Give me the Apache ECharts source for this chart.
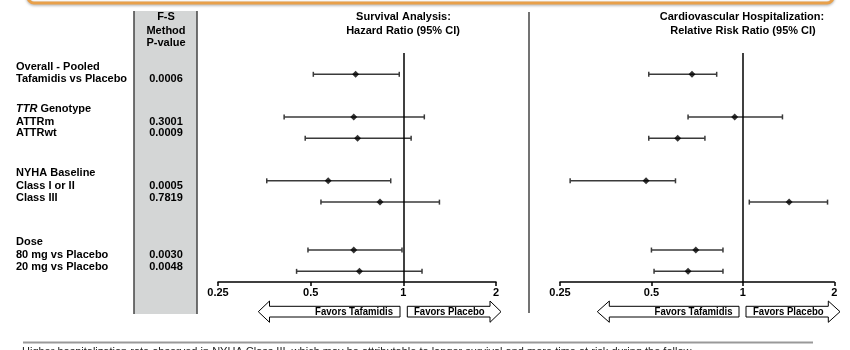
<!DOCTYPE html>
<html><head><meta charset="utf-8">
<script src="https://cdn.jsdelivr.net/npm/echarts@6/dist/echarts.min.js"></script>
<style>html,body{margin:0;padding:0;background:#fff}#c{width:850px;height:350px}</style>
</head><body><div id="c"></div>
<script>
// ---------- data ----------
const rowLabels = ['Overall - Pooled Tafamidis vs Placebo', 'ATTRm', 'ATTRwt', 'Class I or II', 'Class III', '80 mg vs Placebo', '20 mg vs Placebo'];
const pValues = ['0.0006', '0.3001', '0.0009', '0.0005', '0.7819', '0.0030', '0.0048'];
const hrEst  = [0.70, 0.69, 0.71, 0.57, 0.84, 0.69, 0.72];
const hrLow  = [0.51, 0.41, 0.48, 0.36, 0.54, 0.49, 0.45];
const hrHigh = [0.97, 1.17, 1.06, 0.91, 1.31, 0.99, 1.15];
const rrEst  = [0.68, 0.94, 0.61, 0.48, 1.42, 0.70, 0.66];
const rrLow  = [0.49, 0.66, 0.49, 0.27, 1.05, 0.50, 0.51];
const rrHigh = [0.82, 1.35, 0.75, 0.60, 1.90, 0.86, 0.86];
const tickLabels = ['0.25', '0.5', '1', '2'];
const leftTitle = ['Survival Analysis:', 'Hazard Ratio (95% CI)'];
const rightTitle = ['Cardiovascular Hospitalization:', 'Relative Risk Ratio (95% CI)'];
const pHeader = ['F-S', 'Method', 'P-value'];

// ---------- layout (row slots, quarter-row units) ----------
const slotsBefore = [4, 8, 4, 8, 4, 9, 4];
const slotsAfter = 2;
const rowSlot = [];
let s = 0;
slotsBefore.forEach(g => { s += g; rowSlot.push(s); });
const nSlots = s + slotsAfter + 1;
const slotCats = Array.from({length: nSlots}, (_, i) => {
  const k = rowSlot.indexOf(i);
  return k >= 0 ? rowLabels[k] : '_' + i;
});

const FF = '"Liberation Sans", Arial, Helvetica, sans-serif';
const B11 = 'bold 11px ' + FF;
const LINE = '#3a3a3a';

function xAxisDef(gi) {
  return {
    gridIndex: gi, type: 'log', logBase: 2, min: 0.25, max: 2,
    splitLine: {show: false},
    axisLine: {show: true, lineStyle: {color: '#000', width: 1.5}},
    axisTick: {show: true, inside: false, length: 4, lineStyle: {color: '#000', width: 1.5}},
    axisLabel: {
      color: '#000', fontFamily: FF, fontWeight: 'bold', fontSize: 11, margin: 5,
      formatter: v => {
        const r = Math.round(v * 100) / 100;
        const idx = [0.25, 0.5, 1, 2].indexOf(r);
        return idx >= 0 ? tickLabels[idx] : '';
      }
    }
  };
}
function yAxisDef(gi) {
  return {gridIndex: gi, type: 'category', data: slotCats, inverse: true, boundaryGap: false, show: false};
}
function errSeries(gi, low, high) {
  return {
    type: 'custom', xAxisIndex: gi, yAxisIndex: gi, silent: true,
    data: rowLabels.map((_, i) => [low[i], high[i], rowSlot[i]]),
    encode: {x: [0, 1], y: 2},
    renderItem: (params, api) => {
      const a = api.coord([api.value(0), api.value(2)]);
      const b = api.coord([api.value(1), api.value(2)]);
      const h = 2.5;
      const st = {stroke: LINE, lineWidth: 1.5};
      return {type: 'group', children: [
        {type: 'line', shape: {x1: a[0], y1: a[1], x2: b[0], y2: b[1]}, style: st},
        {type: 'line', shape: {x1: a[0], y1: a[1] - h, x2: a[0], y2: a[1] + h}, style: st},
        {type: 'line', shape: {x1: b[0], y1: b[1] - h, x2: b[0], y2: b[1] + h}, style: st}
      ]};
    }
  };
}
function pointSeries(gi, est) {
  return {
    type: 'scatter', xAxisIndex: gi, yAxisIndex: gi, silent: true,
    symbol: 'diamond', symbolSize: 7, itemStyle: {color: '#000'},
    data: rowLabels.map((_, i) => [est[i], rowSlot[i]]),
    z: 5,
    markLine: {
      silent: true, symbol: ['none', 'none'], animation: false,
      label: {show: false},
      lineStyle: {color: '#000', width: 1.5, type: 'solid'},
      data: [{xAxis: 1}]
    }
  };
}

function txt(t, x, y, align, font, sx) {
  return {type: 'text', x: x, y: y, silent: true, scaleX: sx || 1,
    style: {text: t, font: font || B11, fill: '#000', align: align || 'left', verticalAlign: 'middle'}};
}
function arrowLeft(tip, base, end) {
  return {type: 'polygon', silent: true,
    shape: {points: [[tip, 311.7], [base, 301], [base, 306.3], [end, 306.3], [end, 317], [base, 317], [base, 322.3]]},
    style: {fill: '#fff', stroke: '#000', lineWidth: 1}};
}
function arrowRight(start, base, tip) {
  return {type: 'polygon', silent: true,
    shape: {points: [[start, 306.3], [base, 306.3], [base, 301], [tip, 311.7], [base, 322.3], [base, 317], [start, 317]]},
    style: {fill: '#fff', stroke: '#000', lineWidth: 1}};
}

const BF = 'bold 10.5px ' + FF;
const FSX = 0.91;
const leftTextLines = [
  ['Overall - Pooled', 66.7], ['Tafamidis vs Placebo', 79],
  ['ATTRm', 121.7], ['ATTRwt', 133.3],
  ['NYHA Baseline', 173.3], ['Class I or II', 185.7], ['Class III', 197.7],
  ['Dose', 242.3], ['80 mg vs Placebo', 254.7], ['20 mg vs Placebo', 266.7]
];
const pY = [79, 121.7, 133.3, 185.7, 197.7, 254.7, 266.7];

const graphics = [
  {type: 'rect', silent: true, shape: {x: 28, y: -30, width: 805, height: 33, r: 6},
   style: {fill: 'none', stroke: '#e8a04a', lineWidth: 3, shadowBlur: 3, shadowColor: 'rgba(0,0,0,0.35)', shadowOffsetY: 1}},
  {type: 'rect', silent: true, shape: {x: 134, y: 11, width: 63, height: 303},
   style: {fill: '#d4d6d6', stroke: null}},
  {type: 'line', silent: true, shape: {x1: 134, y1: 11, x2: 134, y2: 314}, style: {stroke: '#444', lineWidth: 1.5}},
  {type: 'line', silent: true, shape: {x1: 197, y1: 11, x2: 197, y2: 314}, style: {stroke: '#444', lineWidth: 1.5}},
  {type: 'line', silent: true, shape: {x1: 529, y1: 12, x2: 529, y2: 313}, style: {stroke: '#444', lineWidth: 1.5}},
  {type: 'line', silent: true, shape: {x1: 23, y1: 342.5, x2: 813, y2: 342.5}, style: {stroke: '#999', lineWidth: 2}},
  txt(pHeader[0], 166, 16.7, 'center'), txt(pHeader[1], 166, 30.5, 'center'), txt(pHeader[2], 166, 43.3, 'center'),
  txt(leftTitle[0], 403.5, 16.7, 'center'), txt(leftTitle[1], 403, 31, 'center'),
  txt(rightTitle[0], 742, 16.7, 'center'), txt(rightTitle[1], 743, 31, 'center'),
  {type: 'text', x: 16, y: 109, silent: true,
   style: {text: '{i|TTR} Genotype', font: B11, fill: '#000', align: 'left', verticalAlign: 'middle',
     rich: {i: {font: 'italic bold 11px ' + FF, fill: '#000'}}}},
  arrowLeft(258.3, 269.5, 400), arrowRight(407.3, 490, 501),
  arrowLeft(597.3, 609.3, 739), arrowRight(746, 828.3, 840),
  txt('Favors Tafamidis', 393, 311.7, 'right', BF, FSX), txt('Favors Placebo', 414, 311.7, 'left', BF, FSX),
  txt('Favors Tafamidis', 732.5, 311.7, 'right', BF, FSX), txt('Favors Placebo', 753, 311.7, 'left', BF, FSX),
  {type: 'text', x: 22, y: 346.5, silent: true,
   style: {text: 'Higher hospitalization rate observed in NYHA Class III, which may be attributable to longer survival and more time at risk during the follow', font: '11px ' + FF, fill: '#222', align: 'left', verticalAlign: 'top'}}
];
leftTextLines.forEach(l => graphics.push(txt(l[0], 16, l[1], 'left')));
pValues.forEach((p, i) => graphics.push(txt(p, 166, pY[i], 'center')));

const chart = echarts.init(document.getElementById('c'), null, {renderer: 'canvas'});
chart.setOption({
  animation: false,
  backgroundColor: '#fff',
  textStyle: {fontFamily: FF},
  grid: [
    {left: 218, width: 278, top: 53, height: 229},
    {left: 560, width: 274.3, top: 53, height: 229}
  ],
  xAxis: [xAxisDef(0), xAxisDef(1)],
  yAxis: [yAxisDef(0), yAxisDef(1)],
  series: [
    errSeries(0, hrLow, hrHigh), pointSeries(0, hrEst),
    errSeries(1, rrLow, rrHigh), pointSeries(1, rrEst)
  ],
  graphic: graphics
});
</script>
</body></html>
